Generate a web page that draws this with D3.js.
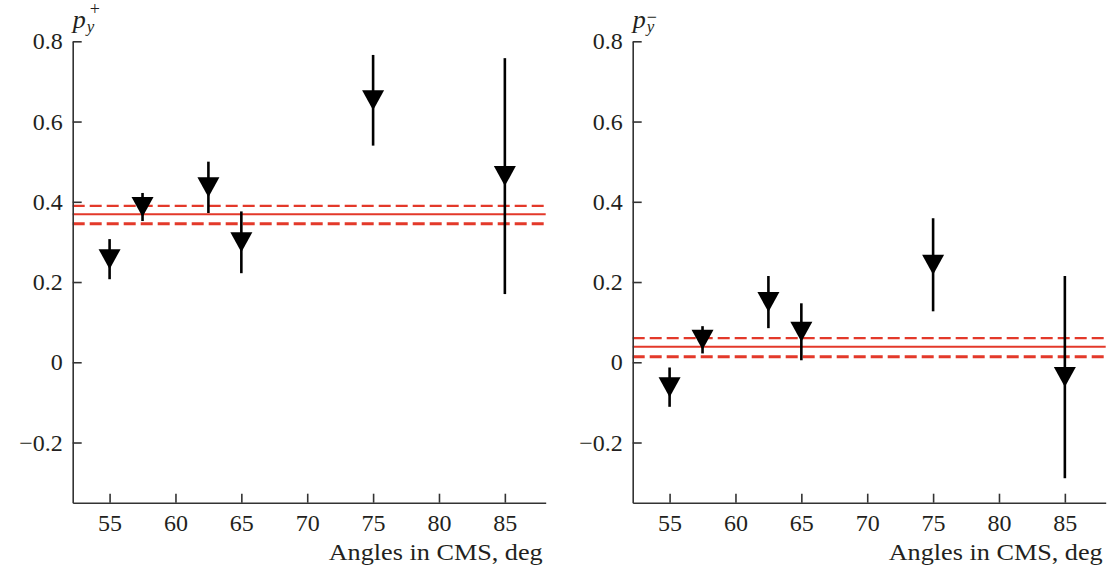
<!DOCTYPE html>
<html>
<head>
    <meta charset="utf-8">
    <title>Polarization vs angle</title>
    <script src="https://d3js.org/d3.v7.min.js"></script>
    <style>
        body { margin: 0; background: #fff; }
        text { font-family: "Liberation Serif", "Times New Roman", serif; fill: #231f20; }
    </style>
</head>
<body>
    <div id="chart"></div>

    <script>
        // Data
        var angles = [55, 57.5, 62.5, 65, 75, 85];
        var pyPlus = [0.257, 0.387, 0.436, 0.299, 0.653, 0.464];
        var pyPlusErr = [0.050, 0.035, 0.064, 0.077, 0.113, 0.294];
        var pyMinus = [-0.062, 0.056, 0.150, 0.076, 0.243, -0.037];
        var pyMinusErr = [0.049, 0.034, 0.065, 0.071, 0.116, 0.252];
        // fit band: lower, mean, upper
        var fitPlus = [0.345, 0.369, 0.390];
        var fitMinus = [0.014, 0.039, 0.060];
        var xTicks = [55, 60, 65, 70, 75, 80, 85];
        var yTicks = [-0.2, 0, 0.2, 0.4, 0.6, 0.8];

        var width = 1107, height = 567;
        var red = "#e3392a";
        var serif = "Liberation Serif, Times New Roman, serif";

        var svg = d3.select("#chart")
            .append("svg")
            .attr("width", width)
            .attr("height", height);

        function drawPanel(left, values, errs, fit, sup) {
            var x = d3.scaleLinear()
                .domain([52.2, 88.1])
                .range([left, left + 473]);
            var y = d3.scaleLinear()
                .domain([-0.35, 0.8])
                .range([502.7, 41.3]);

            var g = svg.append("g");

            // fit lines
            var lines = [
                { v: fit[0], w: 3, dash: "12,5" },
                { v: fit[1], w: 2, dash: null },
                { v: fit[2], w: 2.3, dash: "12,5" }
            ];
            g.selectAll(".fit")
                .data(lines)
                .enter()
                .append("line")
                .attr("x1", x.range()[0])
                .attr("x2", x.range()[1])
                .attr("y1", function(d) { return y(d.v); })
                .attr("y2", function(d) { return y(d.v); })
                .attr("stroke", red)
                .attr("stroke-width", function(d) { return d.w; })
                .attr("stroke-dasharray", function(d) { return d.dash; });

            var pts = angles.map(function(a, i) { return { a: a, v: values[i], e: errs[i] }; });

            // error bars
            g.selectAll(".err")
                .data(pts)
                .enter()
                .append("line")
                .attr("x1", function(d) { return x(d.a); })
                .attr("x2", function(d) { return x(d.a); })
                .attr("y1", function(d) { return y(d.v + d.e); })
                .attr("y2", function(d) { return y(d.v - d.e); })
                .attr("stroke", "#000")
                .attr("stroke-width", 2.6);

            // downward triangles
            g.selectAll(".tri")
                .data(pts)
                .enter()
                .append("path")
                .attr("d", function(d) {
                    var cx = x(d.a), cy = y(d.v);
                    return "M" + (cx - 11) + "," + (cy - 10) +
                        "L" + (cx + 11) + "," + (cy - 10) +
                        "L" + cx + "," + (cy + 10) + "Z";
                })
                .attr("fill", "#000");

            // axes
            var xAxis = g.append("g")
                .attr("transform", "translate(0," + y.range()[0] + ")")
                .call(d3.axisBottom(x).tickValues(xTicks).tickSize(-9).tickSizeOuter(0).tickPadding(11));
            var yAxis = g.append("g")
                .attr("transform", "translate(" + left + ",0)")
                .call(d3.axisLeft(y).tickValues(yTicks).tickSize(-9).tickSizeOuter(0).tickPadding(10)
                    .tickFormat(function(d) { return d === 0 ? "0" : d3.format(".1f")(d); }));

            [xAxis, yAxis].forEach(function(ax) {
                ax.attr("font-family", serif).attr("font-size", 24);
                ax.select(".domain").attr("stroke", "#333").attr("stroke-width", 1.6);
                ax.selectAll(".tick line").attr("stroke", "#333").attr("stroke-width", 1.6);
                ax.selectAll(".tick text")
                    .attr("fill", "#231f20")
                    .style("font-size", "24px");
            });

            // x axis title
            g.append("text")
                .attr("x", left + 470)
                .attr("y", 560)
                .attr("text-anchor", "end")
                .attr("textLength", 214)
                .attr("lengthAdjust", "spacingAndGlyphs")
                .style("font-size", "24px")
                .text("Angles in CMS, deg");

            // y axis title: p_y with superscript
            g.append("text")
                .attr("x", left)
                .attr("y", 27.5)
                .style("font-size", "26px")
                .style("font-style", "italic")
                .text("p");
            g.append("text")
                .attr("x", left + 14)
                .attr("y", 32)
                .style("font-size", "17px")
                .style("font-style", "italic")
                .text("y");
            g.append("text")
                .attr("x", sup === "+" ? left + 17 : left + 14)
                .attr("y", sup === "+" ? 15 : 23)
                .style("font-size", "18px")
                .text(sup);
        }

        drawPanel(72.7, pyPlus, pyPlusErr, fitPlus, "+");
        drawPanel(632.7, pyMinus, pyMinusErr, fitMinus, "\u2212");
    </script>
</body>
</html>
